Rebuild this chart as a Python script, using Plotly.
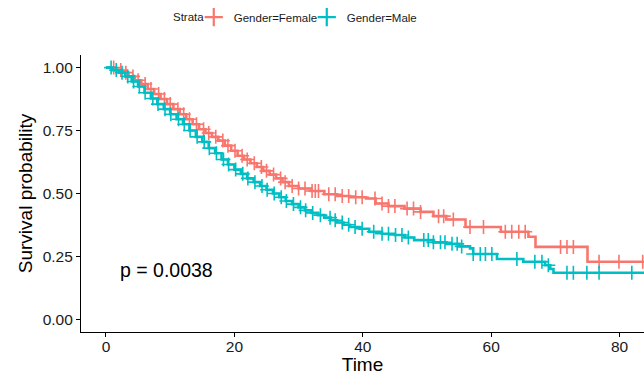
import numpy as np
import plotly.graph_objects as go

# ---- Data ----
female_time = [0, 1.5, 2.5, 3.5, 4.5, 5.5, 6.5, 7.5, 8.5, 9.5, 10.5, 11.5, 12.5, 13.5, 14.5,
               15.5, 16.5, 17.5, 18.5, 19.5, 20.5, 21.5, 22.5, 23.5, 24.5, 25.5, 26.5, 27.5,
               28.5, 30, 32, 34, 36, 38, 40.5, 42, 44, 46.5, 49, 51, 53, 56, 61.5, 65.8, 66.9, 75]
female_surv = [1.0, 0.99, 0.98, 0.965, 0.95, 0.935, 0.915, 0.895, 0.875, 0.855, 0.835, 0.815,
               0.795, 0.775, 0.755, 0.74, 0.725, 0.71, 0.69, 0.67, 0.65, 0.635, 0.62, 0.605,
               0.59, 0.575, 0.56, 0.545, 0.53, 0.52, 0.51, 0.497, 0.49, 0.485, 0.48, 0.46,
               0.45, 0.44, 0.427, 0.41, 0.397, 0.367, 0.348, 0.328, 0.288, 0.229]
female_censor = [1.2, 2.3, 3.1, 4.2, 5.0, 6.1, 7.0, 8.2, 9.1, 10.0, 11.2, 12.1, 13.0, 14.1, 15.2,
                 16.0, 17.1, 18.2, 19.0, 20.1, 21.2, 22.0, 23.1, 24.2, 25.0, 26.1, 27.2, 27.9,
                 29.0, 30.0, 31.0, 32.1, 32.6, 33.1, 34.7, 35.7, 36.8, 37.8, 38.9, 39.9, 41.9,
                 43.0, 44.0, 45.0, 46.9, 47.9, 49.0, 51.8, 52.6, 54.1, 56.7, 58.8, 62.2, 63.2,
                 64.3, 65.3, 70.8, 71.8, 72.8, 76.8, 79.9, 83.6]
female_end = 88

male_time = [0, 1, 2, 3, 4, 5, 6, 7, 8, 9, 10, 11, 12, 13, 14, 15, 16, 17, 18, 19, 20, 21, 22,
             23, 24, 25, 26, 27, 28, 29, 30, 31, 32, 33, 34, 35, 36, 37, 38, 39.5, 41, 43, 45,
             46.5, 48, 51, 53, 55, 56.7, 57.2, 60.9, 65, 68.4, 69.2, 69.7]
male_surv = [1.0, 0.99, 0.98, 0.965, 0.945, 0.925, 0.9, 0.877, 0.855, 0.835, 0.815, 0.795,
             0.775, 0.75, 0.725, 0.705, 0.68, 0.66, 0.635, 0.615, 0.595, 0.578, 0.56, 0.545,
             0.53, 0.515, 0.5, 0.485, 0.47, 0.458, 0.445, 0.433, 0.423, 0.414, 0.404, 0.394,
             0.385, 0.376, 0.367, 0.36, 0.348, 0.34, 0.335, 0.325, 0.315, 0.306, 0.3, 0.29,
             0.282, 0.26, 0.24, 0.229, 0.215, 0.2, 0.185]
male_censor = [0.8, 1.6, 2.5, 3.4, 4.3, 5.2, 6.1, 7.3, 8.1, 9.2, 10.1, 11.3, 12.2, 13.1, 14.2,
               15.3, 16.1, 17.2, 18.3, 19.1, 20.2, 21.3, 22.1, 23.2, 24.3, 25.1, 26.2, 27.3,
               28.1, 29.2, 30.3, 31.1, 32.2, 33.4, 34.9, 35.7, 36.8, 37.8, 38.8, 39.9, 41.7,
               43.0, 44.0, 45.1, 46.1, 47.1, 49.5, 50.2, 51.0, 52.1, 52.8, 53.9, 54.7, 55.4,
               57.2, 58.3, 59.1, 60.1, 64.0, 66.8, 67.9, 68.9, 71.8, 72.8, 74.9, 76.8, 81.9]
male_end = 88

groups = ["Gender=Female", "Gender=Male"]
colors = ["#F8766D", "#00BFC4"]
legend_title = "Strata"
p_label = "p = 0.0038"
x_ticks = [0, 20, 40, 60, 80]
y_ticks = [0, 0.25, 0.5, 0.75, 1.0]
y_ticktext = ["0.00", "0.25", "0.50", "0.75", "1.00"]

FONT = "Liberation Sans, Arial, sans-serif"

fig = go.Figure()

def step_value(times, surv, t):
    idx = np.searchsorted(np.array(times), np.array(t), side="right") - 1
    return np.array(surv)[idx]

series = [
    (female_time, female_surv, female_censor, female_end),
    (male_time, male_surv, male_censor, male_end),
]

for (t, s, c, end), name, col in zip(series, groups, colors):
    fig.add_trace(go.Scatter(
        x=list(t) + [end], y=list(s) + [s[-1]],
        mode="lines", line=dict(color=col, width=2.6, shape="hv"),
        showlegend=False, hoverinfo="skip", cliponaxis=True,
    ))
    fig.add_trace(go.Scatter(
        x=c, y=step_value(t, s, c),
        mode="markers",
        marker=dict(symbol="cross-thin", size=10, line=dict(color=col, width=1.6)),
        showlegend=False, hoverinfo="skip",
    ))

# legend entries (short "+" keys like ggplot)
for name, col in zip(groups, colors):
    fig.add_trace(go.Scatter(
        x=[None], y=[None], mode="markers", name=name,
        marker=dict(symbol="cross-thin", size=13, line=dict(color=col, width=2.2)),
    ))

fig.add_annotation(
    x=1.9, y=0.195, xref="x", yref="y", text=p_label, showarrow=False,
    xanchor="left", yanchor="middle", font=dict(family=FONT, size=19.5, color="black"),
)
fig.add_annotation(
    x=0.1634, y=1.137, xref="paper", yref="paper", text=legend_title, showarrow=False,
    xanchor="left", yanchor="middle", xshift=-2,
    font=dict(family=FONT, size=11.5, color="#1a1a1a"),
)

fig.update_layout(
    width=644, height=375,
    margin=dict(l=81, r=0, t=55, b=43),
    paper_bgcolor="white", plot_bgcolor="white",
    font=dict(family=FONT, color="black"),
    legend=dict(
        orientation="h", x=0.2003, xanchor="left", y=1.137, yanchor="middle",
        font=dict(size=11.5, color="#1a1a1a"), itemwidth=30, tracegroupgap=0,
        entrywidth=68, entrywidthmode="pixels",
        bgcolor="rgba(0,0,0,0)",
    ),
    xaxis=dict(
        range=[-3.89, 83.8], tickvals=x_ticks, showgrid=False, zeroline=False,
        showline=True, linecolor="black", linewidth=1.2, ticks="outside", ticklen=4,
        tickcolor="black", tickwidth=1.1, tickfont=dict(size=15.5, color="#1a1a1a"),
        ticklabelstandoff=-4,
        title=dict(text="Time", font=dict(size=19, color="black"), standoff=2),
        automargin=False,
    ),
    yaxis=dict(
        range=[-0.05, 1.05], tickvals=y_ticks, ticktext=y_ticktext, showgrid=False,
        zeroline=False, showline=True, linecolor="black", linewidth=1.2, ticks="outside",
        ticklen=4, tickcolor="black", tickwidth=1.1, tickfont=dict(size=15.5, color="#1a1a1a"),
        title=dict(text="Survival probability", font=dict(size=19, color="black"), standoff=4),
        automargin=False,
    ),
)

fig.write_html("out.html")
